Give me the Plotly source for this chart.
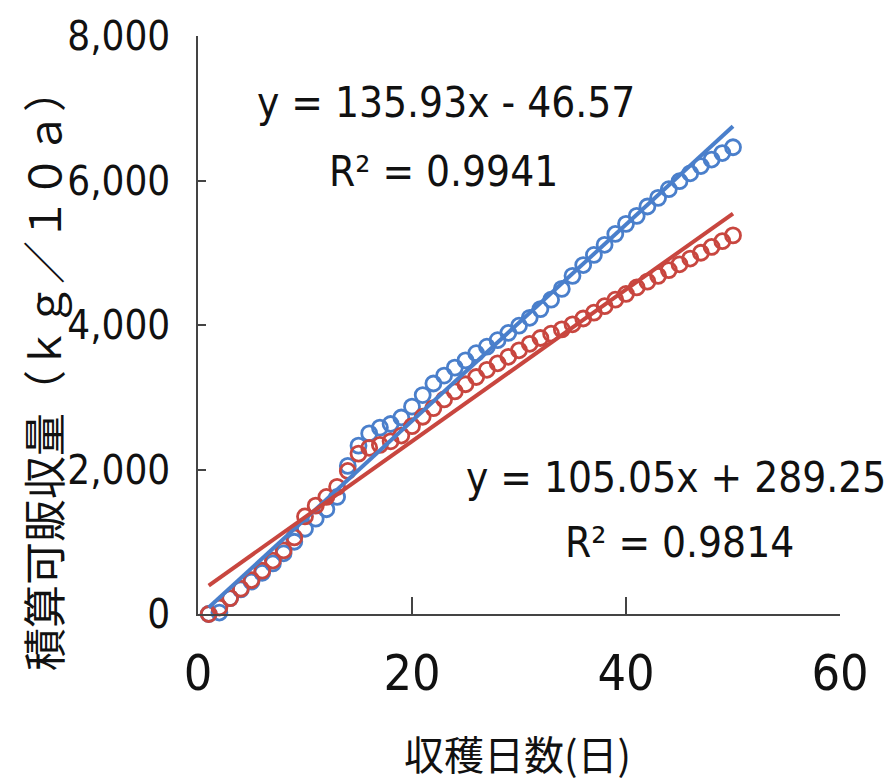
import plotly.graph_objects as go

days = list(range(1, 51))
blue_vals = [0, 20, 220, 340, 450, 570, 700, 840, 1000, 1180,
             1320, 1450, 1620, 2050, 2330, 2500, 2580, 2630, 2720, 2870,
             3030, 3190, 3300, 3410, 3510, 3610, 3700, 3790, 3890, 3990,
             4100, 4220, 4350, 4500, 4680, 4830, 4970, 5110, 5260, 5400,
             5510, 5640, 5760, 5880, 5990, 6100, 6200, 6290, 6380, 6460]
red_vals = [0, 90, 220, 350, 470, 600, 740, 880, 1060, 1350,
            1500, 1620, 1760, 1980, 2220, 2300, 2340, 2390, 2470, 2600,
            2730, 2850, 2970, 3080, 3180, 3280, 3380, 3470, 3560, 3650,
            3740, 3820, 3880, 3940, 4010, 4090, 4170, 4260, 4350, 4430,
            4520, 4600, 4680, 4760, 4840, 4920, 5000, 5080, 5160, 5240]

blue_fit = (135.93, -46.57, 0.9941)
red_fit = (105.05, 289.25, 0.9814)
fit_x = [1, 50]

x_ticks = [0, 20, 40, 60]
y_ticks = [0, 2000, 4000, 6000, 8000]
y_tick_text = ["0", "2,000", "4,000", "6,000", "8,000"]

BLUE = "#4A7FCB"
RED = "#C8463F"
NUM_FONT = "DejaVu Sans Condensed, Liberation Sans Narrow, sans-serif"
CJK_FONT = "Noto Sans CJK JP, Noto Sans CJK SC, sans-serif"

fig = go.Figure()
fig.add_trace(go.Scatter(x=days, y=blue_vals, mode="markers", cliponaxis=False,
                         marker=dict(symbol="circle-open", size=15, color=BLUE,
                                     line=dict(width=2.8, color=BLUE)),
                         showlegend=False))
fig.add_trace(go.Scatter(x=days, y=red_vals, mode="markers", cliponaxis=False,
                         marker=dict(symbol="circle-open", size=15, color=RED,
                                     line=dict(width=2.8, color=RED)),
                         showlegend=False))
for (a, b, r2), col in ((blue_fit, BLUE), (red_fit, RED)):
    fig.add_trace(go.Scatter(x=fit_x, y=[a * v + b for v in fit_x], mode="lines",
                             line=dict(color=col, width=4), cliponaxis=False,
                             showlegend=False))


def eq_lines(a, b, r2):
    sign = "-" if b < 0 else "+"
    return f"y = {a:.2f}x {sign} {abs(b):.2f}", f"R² = {r2:.4f}"


eq_font = dict(family=NUM_FONT, size=42, color="#111")
for fit, (x1, y1, x2, y2) in ((blue_fit, (23.2, 7073, 22.9, 6118)),
                              (red_fit, (44.7, 1896, 45.0, 983))):
    l1, l2 = eq_lines(*fit)
    fig.add_annotation(x=x1, y=y1, xref="x", yref="y", text=l1, showarrow=False,
                       font=eq_font, xanchor="center", yanchor="middle")
    fig.add_annotation(x=x2, y=y2, xref="x", yref="y", text=l2, showarrow=False,
                       font=eq_font, xanchor="center", yanchor="middle")

fig.add_annotation(x=-0.243, y=0.422, xref="paper", yref="paper",
                   text="積算可販収量（ｋｇ／１０ａ）", textangle=-90, showarrow=False,
                   xanchor="center", yanchor="middle",
                   font=dict(family=CJK_FONT, size=43, color="#111"))
fig.add_annotation(x=0.497, y=-0.24, xref="paper", yref="paper",
                   text="収穫日数(日)", showarrow=False,
                   xanchor="center", yanchor="middle",
                   font=dict(family=CJK_FONT, size=40, color="#111"))

# page body has an 8px offset in the viewer, so margins are shifted by 8px
fig.update_layout(
    width=892, height=782,
    margin=dict(l=190, r=60, t=28, b=176),
    paper_bgcolor="white", plot_bgcolor="white",
    xaxis=dict(range=[0, 60], tickvals=x_ticks, ticks="inside", ticklen=17,
               tickwidth=1.5, tickcolor="#444", showline=True, linecolor="#444",
               linewidth=1.5, showgrid=False, zeroline=False, automargin=False,
               tickfont=dict(family=NUM_FONT, size=50, color="#111"),
               ticklabelstandoff=14),
    yaxis=dict(range=[0, 8000], tickvals=y_ticks, ticktext=y_tick_text,
               ticks="inside", ticklen=8, tickwidth=1.5, tickcolor="#444",
               showline=True, linecolor="#444", linewidth=1.5, showgrid=False,
               zeroline=False, automargin=False,
               tickfont=dict(family=NUM_FONT, size=40, color="#111"),
               ticklabelstandoff=18),
)

fig.write_html("out.html")
